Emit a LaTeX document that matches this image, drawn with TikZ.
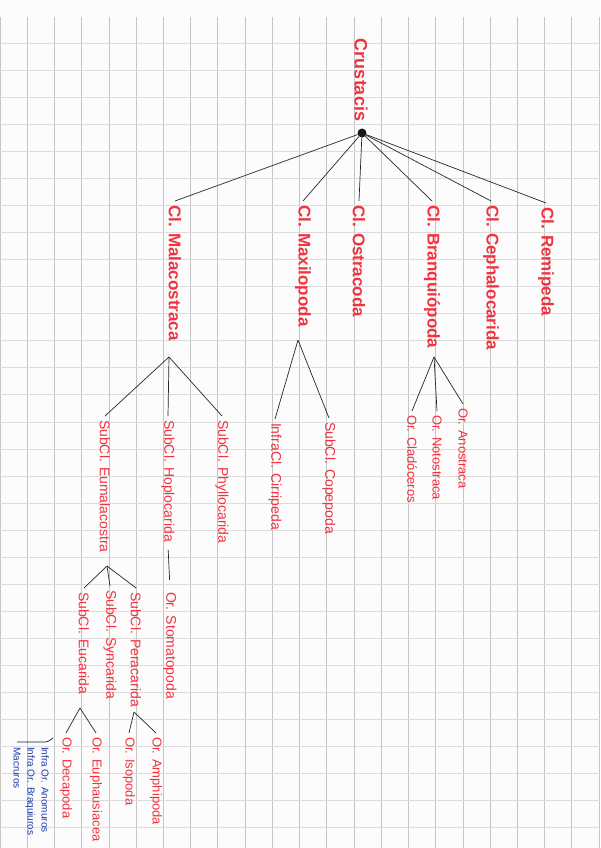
\documentclass[tikz,border=0pt]{standalone}
\usepackage{fontspec}
\setmainfont{Liberation Sans}
\usepackage{tikz}
\usetikzlibrary{calc}
\definecolor{CrRed}{HTML}{F2323E}
\definecolor{CrBlue}{HTML}{1E3CA8}
\definecolor{CrPaper}{HTML}{FCFCFC}
\definecolor{CrGridV}{HTML}{C4C4C4}
\definecolor{CrGridH}{HTML}{DCDCDC}

\begin{document}
\begin{tikzpicture}[
    x=1pt,y=-1pt,
    lbl/.style={text=CrRed,rotate=-90,anchor=west,inner sep=1pt,outer sep=3pt},
    rootlbl/.style={lbl,font=\fontsize{18}{20}\selectfont\bfseries},
    cls/.style={lbl,font=\fontsize{17}{19}\selectfont\bfseries},
    sub/.style={lbl,font=\fontsize{14}{16}\selectfont},
    ordr/.style={lbl,font=\fontsize{13}{15}\selectfont},
    note/.style={text=CrBlue,rotate=-90,anchor=north west,align=left,inner sep=1pt,font=\fontsize{10}{14}\selectfont},
    link/.style={line width=0.7pt,black!85},
    gridv/.style={CrGridV,line width=0.8pt},
    gridh/.style={CrGridH,line width=0.8pt}
  ]
    % paper
    \useasboundingbox (0,0) rectangle (600,848);
    \fill[CrPaper] (0,0) rectangle (600,848);
    \foreach \i in {0,...,22} \draw[gridv] (\i*27.23,17) -- (\i*27.23,848);
    \foreach \j in {1,...,30} \draw[gridh] (0,16.3+\j*27.04) -- (600,16.3+\j*27.04);

    % root
    \node[rootlbl] (crus) at (361,35) {Crustacis};
    \node[circle,fill=black!90,inner sep=0pt,minimum size=9pt] (root) at (362,133) {};

    % classes
    \node[cls] (mala) at (175,201) {Cl. Malacostraca};
    \node[cls] (maxi) at (303,201) {Cl. Maxilopoda};
    \node[cls] (ostra) at (359,201) {Cl. Ostracoda};
    \node[cls] (bran) at (432,201) {Cl. Branquiópoda};
    \node[cls] (cepha) at (491,201) {Cl. Cephalocarida};
    \node[cls] (remi) at (546,203) {Cl. Remipeda};
    \foreach \c in {mala,maxi,ostra,bran,cepha,remi} \draw[link] (root) -- (\c.west);

    % Malacostraca
    \coordinate (fMala) at (169,357);
    \node[sub] (eum) at (105,416) {SubCl. Eumalacostra};
    \node[sub] (hop) at (168,416) {SubCl. Hoplocarida};
    \node[sub] (phy) at (222,416) {SubCl. Phyllocarida};
    \draw[link] (fMala) -- (eum.west); \draw[link] (fMala) -- (hop.west); \draw[link] (fMala) -- (phy.west);

    % Maxilopoda
    \coordinate (fMaxi) at (298,340);
    \node[sub] (cirr) at (275,419) {InfraCl. Cirripeda};
    \node[sub] (cope) at (329,418) {SubCl. Copepoda};
    \draw[link] (fMaxi) -- (cirr.west); \draw[link] (fMaxi) -- (cope.west);

    % Branquiopoda
    \coordinate (fBran) at (434,357);
    \node[ordr] (clad) at (412,411) {Or. Cladóceros};
    \node[ordr] (noto) at (437,411) {Or. Notostraca};
    \node[ordr] (anos) at (463,404) {Or. Anostraca};
    \draw[link] (fBran) -- (clad.west); \draw[link] (fBran) -- (noto.west); \draw[link] (fBran) -- (anos.west);

    % Eumalacostraca
    \coordinate (fEum) at (107,566);
    \node[sub] (euca) at (84,588) {SubCl. Eucarida};
    \node[sub] (sync) at (110,586) {SubCl. Syncarida};
    \node[sub] (pera) at (136,588) {SubCl. Peracarida};
    \draw[link] (fEum) -- (euca.west); \draw[link] (fEum) -- (sync.west); \draw[link] (fEum) -- (pera.west);

    % Hoplocarida
    \node[sub] (stom) at (170,588) {Or. Stomatopoda};
    \draw[link,shorten <=4pt,shorten >=8pt] (hop.east) -- (stom.west);

    % Eucarida
    \coordinate (fEuca) at (80,708);
    \node[ordr] (deca) at (66,733) {Or. Decapoda};
    \node[ordr] (euph) at (96,733) {Or. Euphausiacea};
    \draw[link] (fEuca) -- (deca.west); \draw[link] (fEuca) -- (euph.west);

    % Peracarida
    \coordinate (fPera) at (134,712);
    \node[ordr] (iso) at (129,733) {Or. Isopoda};
    \node[ordr] (amph) at (156,733) {Or. Amphipoda};
    \draw[link] (fPera) -- (iso.west); \draw[link] (fPera) -- (amph.west);

    % note on decapoda
    \node[note] (decnote) at (50,746) {Infra Or. Anomuros\\Infra Or. Braquiuros\\Macruros};
    \coordinate (brk) at (17,742);
    \draw[link,CrBlue!40!black] (brk) -- ++(28,0) .. controls +(4,0) and +(-2,1) .. ++(8,-4);
  \end{tikzpicture}
\end{document}
